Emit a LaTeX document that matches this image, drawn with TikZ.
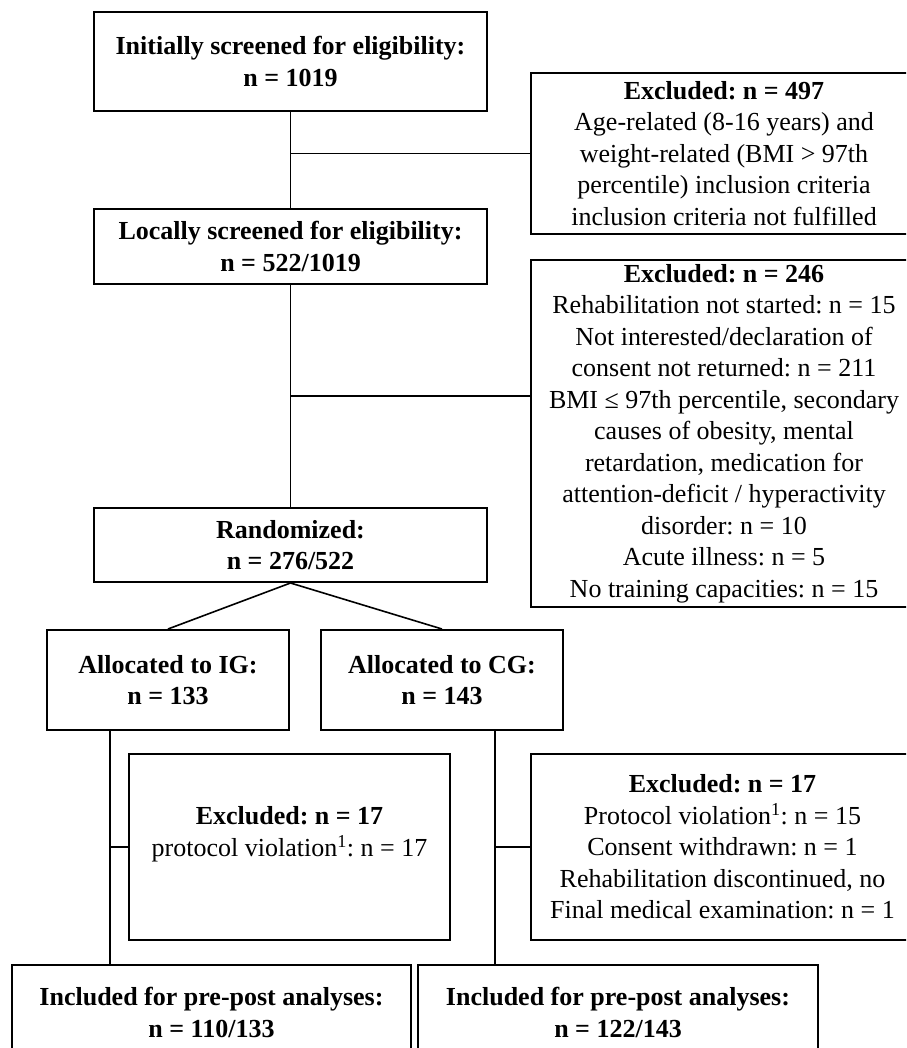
\documentclass[tikz,border=0pt]{standalone}
\usepackage{fontspec}
\setmainfont{Liberation Serif}
\frenchspacing
\begin{document}
\begin{tikzpicture}[x=1pt,y=-1pt,
  box/.style={draw,line width=2pt,inner sep=0pt,align=center,
    font=\fontsize{26}{31.5}\selectfont\frenchspacing},
  conn/.style={line width=1.6pt}]
\useasboundingbox (0,0) rectangle (906,1048);
\clip (0,0) rectangle (906,1048);
\node[box,minimum width=393pt,minimum height=99pt] (b1) at (290.5,61.5)
  {\textbf{Initially screened for eligibility:}\\\textbf{n = 1019}};
\node[box,minimum width=386pt,minimum height=161pt] (e1) at (724,153.5)
  {\textbf{Excluded: n = 497}\\Age-related (8-16 years) and\\weight-related (BMI > 97th\\percentile) inclusion criteria\\inclusion criteria not fulfilled};
\node[box,minimum width=393pt,minimum height=75pt] (b2) at (290.5,246.5)
  {\textbf{Locally screened for eligibility:}\\\textbf{n = 522/1019}};
\node[box,minimum width=386pt,minimum height=347pt] (e2) at (724,433.5)
  {\textbf{Excluded: n = 246}\\Rehabilitation not started: n = 15\\Not interested/declaration of\\consent not returned: n = 211\\BMI ≤ 97th percentile, secondary\\causes of obesity, mental\\retardation, medication for\\attention-deficit / hyperactivity\\disorder: n = 10\\Acute illness: n = 5\\No training capacities: n = 15};
\node[box,minimum width=393pt,minimum height=74pt] (r) at (290.5,545)
  {\textbf{Randomized:}\\\textbf{n = 276/522}};
\node[box,minimum width=242pt,minimum height=100pt] (ig) at (168,680)
  {\textbf{Allocated to IG:}\\\textbf{n = 133}};
\node[box,minimum width=242pt,minimum height=100pt] (cg) at (442,680)
  {\textbf{Allocated to CG:}\\\textbf{n = 143}};
\node[box,minimum width=321pt,minimum height=186pt] (ei) at (289.5,847)
  {\textbf{Excluded: n = 17}\\protocol violation\textsuperscript{1}: n = 17\\\mbox{}};
\node[box,minimum width=383pt,minimum height=186pt] (ec) at (722.5,847)
  {\textbf{Excluded: n = 17}\\Protocol violation\textsuperscript{1}: n = 15\\Consent withdrawn: n = 1\\Rehabilitation discontinued, no\\Final medical examination: n = 1};
\node[box,minimum width=399pt,minimum height=95pt] (inc1) at (211.5,1012.5)
  {\textbf{Included for pre-post analyses:}\\\textbf{n = 110/133}};
\node[box,minimum width=400pt,minimum height=95pt] (inc2) at (618,1012.5)
  {\textbf{Included for pre-post analyses:}\\\textbf{n = 122/143}};
\coordinate (j2) at (290,396);
\coordinate (v1) at (110,0);
\coordinate (v2) at (495,0);
\draw[conn] (b1.south) -- (b2.north);
\draw[conn] (b1.south |- e1.west) -- (e1.west);
\draw[conn] (b2.south) -- (r.north);
\draw[conn] (j2) -- (j2 -| e2.west);
\draw[conn] (r.south) -- (ig.north);
\draw[conn] (r.south) -- (cg.north);
\draw[conn] (ig.south -| v1) -- (inc1.north -| v1);
\draw[conn] (v1 |- ei.west) -- (ei.west);
\draw[conn] (cg.south -| v2) -- (inc2.north -| v2);
\draw[conn] (v2 |- ec.west) -- (ec.west);
\end{tikzpicture}
\end{document}
